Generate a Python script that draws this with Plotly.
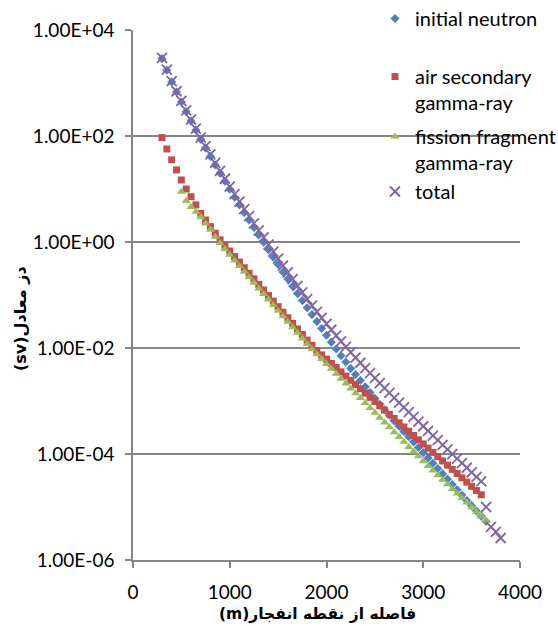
import plotly.graph_objects as go

# distances (m), sampled every 50 m from 300 to 3800
distance = [300, 350, 400, 450, 500, 550, 600, 650, 700, 750, 800, 850, 900, 950,
            1000, 1050, 1100, 1150, 1200, 1250, 1300, 1350, 1400, 1450, 1500, 1550,
            1600, 1650, 1700, 1750, 1800, 1850, 1900, 1950, 2000, 2050, 2100, 2150,
            2200, 2250, 2300, 2350, 2400, 2450, 2500, 2550, 2600, 2650, 2700, 2750,
            2800, 2850, 2900, 2950, 3000, 3050, 3100, 3150, 3200, 3250, 3300, 3350,
            3400, 3450, 3500, 3550, 3600, 3650, 3700, 3750, 3800]

# initial neutron: 300 .. 3650
neutron = [2880, 1740, 1050, 676, 437, 288, 191, 129, 87.1, 59.6, 41.2, 28.5, 19.9, 14.0,
           9.89, 7.00, 5.01, 3.59, 2.60, 1.88, 1.36, 0.989, 0.716, 0.519, 0.376, 0.272,
           0.200, 0.146, 0.107, 0.0785, 0.0575, 0.0427, 0.0316, 0.0234, 0.0174, 0.0129,
           0.00955, 0.00716, 0.00543, 0.00412, 0.00316, 0.00243, 0.00186, 0.00145,
           0.00112, 8.71e-4, 6.84e-4, 5.37e-4, 4.22e-4, 3.35e-4, 2.66e-4, 2.11e-4,
           1.68e-4, 1.33e-4, 1.06e-4, 8.41e-5, 6.68e-5, 5.31e-5, 4.22e-5, 3.35e-5,
           2.66e-5, 2.11e-5, 1.68e-5, 1.33e-5, 1.06e-5, 8.41e-6, 6.68e-6, 5.31e-6]

# air secondary gamma-ray: 300 .. 3600
air_gamma = [93.3, 56.9, 35.5, 22.9, 14.8, 10.0, 7.16, 5.01, 3.47, 2.60, 1.95, 1.46, 1.10,
             0.861, 0.676, 0.531, 0.417, 0.327, 0.257, 0.202, 0.158, 0.124, 0.0977,
             0.0767, 0.0603, 0.0473, 0.0372, 0.0292, 0.0229, 0.0180, 0.0141, 0.0112,
             0.00891, 0.00741, 0.00617, 0.00513, 0.00427, 0.00355, 0.00295, 0.00245,
             0.00204, 0.00170, 0.00141, 0.00117, 9.77e-4, 8.13e-4, 6.76e-4, 5.62e-4,
             4.68e-4, 3.89e-4, 3.24e-4, 2.69e-4, 2.24e-4, 1.86e-4, 1.55e-4, 1.29e-4,
             1.07e-4, 8.91e-5, 7.41e-5, 6.17e-5, 5.13e-5, 4.27e-5, 3.55e-5, 2.95e-5,
             2.45e-5, 2.04e-5, 1.70e-5]

# fission fragment gamma-ray: 500 .. 3650
fission_gamma = [8.91, 6.03, 4.57, 3.72, 2.95, 2.24, 1.70, 1.26, 0.955, 0.741, 0.575,
                 0.447, 0.351, 0.275, 0.216, 0.170, 0.133, 0.105, 0.0822, 0.0646, 0.0507,
                 0.0398, 0.0313, 0.0245, 0.0193, 0.0151, 0.0119, 0.00944, 0.00759,
                 0.00617, 0.00501, 0.00407, 0.00327, 0.00263, 0.00214, 0.00172, 0.00140,
                 0.00114, 9.12e-4, 7.41e-4, 6.03e-4, 4.84e-4, 3.94e-4, 3.20e-4, 2.57e-4,
                 2.09e-4, 1.70e-4, 1.36e-4, 1.11e-4, 9.02e-5, 7.33e-5, 5.96e-5, 4.90e-5,
                 3.98e-5, 3.27e-5, 2.69e-5, 2.19e-5, 1.80e-5, 1.48e-5, 1.22e-5, 9.89e-6,
                 8.13e-6, 6.68e-6, 5.50e-6]

# total: 300 .. 3800
total = [2980, 1795, 1083, 699, 461, 304, 203, 138, 93.5, 64.4, 44.9, 31.2, 22.0, 15.6,
         11.1, 7.98, 5.78, 4.19, 3.07, 2.25, 1.65, 1.22, 0.896, 0.660, 0.487, 0.359,
         0.268, 0.200, 0.149, 0.112, 0.0835, 0.0633, 0.0481, 0.0370, 0.0286, 0.0221,
         0.0171, 0.0133, 0.0105, 0.00829, 0.00660, 0.00527, 0.00418, 0.00336, 0.00270,
         0.00217, 0.00175, 0.00142, 0.00115, 9.33e-4, 7.60e-4, 6.16e-4, 5.03e-4,
         4.09e-4, 3.34e-4, 2.73e-4, 2.23e-4, 1.82e-4, 1.49e-4, 1.22e-4, 9.98e-5,
         8.18e-5, 6.71e-5, 5.50e-5, 4.50e-5, 3.69e-5, 3.04e-5, 1.0e-5, 4.2e-6, 3.4e-6,
         2.6e-6]

y_tickvals = [1e-6, 1e-4, 1e-2, 1e0, 1e2, 1e4]
y_ticktext = ["1.00E-06", "1.00E-04", "1.00E-02", "1.00E+00", "1.00E+02", "1.00E+04"]
x_tickvals = [0, 1000, 2000, 3000, 4000]

names = ["initial neutron", "air secondary<br>gamma-ray", "fission fragment<br>gamma-ray", "total"]

TICK_FONT = dict(family="Lato, Liberation Sans, sans-serif", size=19, color="#000000")
LEG_FONT = dict(family="Lato, Liberation Sans, sans-serif", size=20, color="#000000")

fig = go.Figure()
fig.add_trace(go.Scatter(x=distance[:len(neutron)], y=neutron, mode="markers", name=names[0],
                         marker=dict(symbol="diamond", size=7, color="#4F81BD"), legend="legend"))
fig.add_trace(go.Scatter(x=distance[:len(air_gamma)], y=air_gamma, mode="markers", name=names[1],
                         marker=dict(symbol="square", size=7, color="#C0504D"), legend="legend2"))
fig.add_trace(go.Scatter(x=distance[4:4 + len(fission_gamma)], y=fission_gamma, mode="markers",
                         name=names[2],
                         marker=dict(symbol="triangle-up", size=8, color="#9BBB59"), legend="legend3"))
fig.add_trace(go.Scatter(x=distance[:len(total)], y=total, mode="markers", name=names[3],
                         marker=dict(symbol="x-thin-open", size=10, color="#8064A2",
                                     line=dict(width=1.8, color="#8064A2")), legend="legend4"))

L, R, T, B = 133, 38, 30, 66
PW, PH = 558 - L - R, 626 - T - B


def px_to_paper(px, py):
    return (px - L) / PW, (626 - B - py) / PH


def leg(px, py):
    x, y = px_to_paper(px, py)
    return dict(x=x, y=y, xanchor="left", yanchor="top", bgcolor="rgba(0,0,0,0)",
                font=LEG_FONT, valign="top", itemwidth=30, tracegroupgap=0)


fig.update_layout(
    width=558, height=626,
    margin=dict(l=L, r=R, t=T, b=B, autoexpand=False),
    paper_bgcolor="white", plot_bgcolor="white",
    showlegend=True,
    legend=leg(375, -1),
    legend2=leg(375, 57),
    legend3=leg(375, 117),
    legend4=leg(375, 172),
    xaxis=dict(range=[0, 4000], tickvals=x_tickvals, showgrid=False, zeroline=False,
               showline=True, linecolor="#868686", linewidth=1.5, ticks="outside",
               ticklen=6, tickcolor="#868686", tickwidth=1.5, tickfont=TICK_FONT,
               ticklabelstandoff=8),
    yaxis=dict(type="log", range=[-6, 4], tickvals=y_tickvals, ticktext=y_ticktext,
               showgrid=True, gridcolor="#868686", gridwidth=1.5, zeroline=False,
               showline=True, linecolor="#868686", linewidth=1.5, ticks="outside",
               ticklen=6, tickcolor="#868686", tickwidth=1.5, tickfont=TICK_FONT,
               ticklabelstandoff=7),
)

tx, ty = px_to_paper(317, 614)
fig.add_annotation(text="<b>(m)فاصله از نقطه انفجار</b>", xref="paper", yref="paper", x=tx, y=ty,
                   showarrow=False, xanchor="center", yanchor="middle",
                   font=dict(family="DejaVu Sans, sans-serif", size=15.5, color="#000000"))
ax_, ay_ = px_to_paper(20, 319)
fig.add_annotation(text="<b>(sv)دز معادل</b>", xref="paper", yref="paper", x=ax_, y=ay_,
                   showarrow=False, xanchor="center", yanchor="middle", textangle=-90,
                   font=dict(family="DejaVu Sans, sans-serif", size=16, color="#000000"))

fig.write_html("out.html")
